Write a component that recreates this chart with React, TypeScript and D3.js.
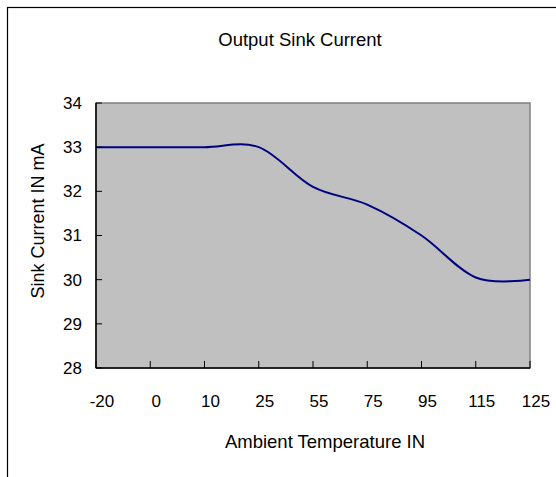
import React, { useEffect, useRef } from "react"
import * as d3 from "d3"

const temps = ["-20", "0", "10", "25", "55", "75", "95", "115", "125"]
const sinkCurrent = [33, 33, 33, 33, 32.1, 31.7, 31.0, 30.05, 30.0]
const yTicks = [28, 29, 30, 31, 32, 33, 34]

const App = () => {
	const svgRef = useRef<SVGSVGElement>(null)

	useEffect(() => {
		const width = 556
		const height = 477
		const margin = { top: 103, right: 26, bottom: 109, left: 96 }

		const svg = d3.select(svgRef.current).attr("width", width).attr("height", height)
		svg.selectAll("*").remove()

		const font = "Arial, 'Liberation Sans', sans-serif"

		// outer chart border (right/bottom run past the window)
		svg.append("rect")
			.attr("x", 7.5)
			.attr("y", 7.5)
			.attr("width", 600)
			.attr("height", 600)
			.attr("fill", "white")
			.attr("stroke", "black")
			.attr("stroke-width", 1.2)

		const scale = {
			x: d3
				.scalePoint()
				.domain(temps)
				.range([margin.left, width - margin.right]),
			y: d3
				.scaleLinear()
				.domain([28, 34])
				.range([height - margin.bottom, margin.top]),
		}

		const x0 = margin.left
		const x1 = width - margin.right
		const y0 = height - margin.bottom
		const y1 = margin.top

		// plot area
		svg.append("rect")
			.attr("x", x0)
			.attr("y", y1)
			.attr("width", x1 - x0)
			.attr("height", y0 - y1)
			.attr("fill", "#c0c0c0")
			.attr("stroke", "#808080")
			.attr("stroke-width", 1.5)

		// line
		const line = d3
			.line<number>()
			.x((d, i) => scale.x(temps[i]) as number)
			.y((d) => scale.y(d))
			.curve(d3.curveCardinal.tension(0))

		svg.append("path")
			.datum(sinkCurrent)
			.attr("d", line)
			.attr("fill", "none")
			.attr("stroke", "#000080")
			.attr("stroke-width", 2)

		// y axis
		const yAxis = svg.append("g")
		yAxis.append("line")
			.attr("x1", x0).attr("x2", x0)
			.attr("y1", y1).attr("y2", y0)
			.attr("stroke", "black").attr("stroke-width", 1.5)
		yAxis.selectAll(".yt")
			.data(yTicks)
			.join("line")
			.attr("x1", x0).attr("x2", x0 + 6)
			.attr("y1", (d) => scale.y(d)).attr("y2", (d) => scale.y(d))
			.attr("stroke", "black")
		yAxis.selectAll("text")
			.data(yTicks)
			.join("text")
			.attr("x", x0 - 14)
			.attr("y", (d) => scale.y(d))
			.attr("dy", "0.35em")
			.attr("text-anchor", "end")
			.attr("font-family", font)
			.attr("font-size", 17)
			.text((d) => d)

		// x axis
		const xAxis = svg.append("g")
		xAxis.append("line")
			.attr("x1", x0).attr("x2", x1)
			.attr("y1", y0).attr("y2", y0)
			.attr("stroke", "black").attr("stroke-width", 1.5)
		xAxis.selectAll(".xt")
			.data(temps)
			.join("line")
			.attr("x1", (d) => scale.x(d) as number).attr("x2", (d) => scale.x(d) as number)
			.attr("y1", y0).attr("y2", y0 - 7)
			.attr("stroke", "black")
		xAxis.selectAll("text")
			.data(temps)
			.join("text")
			.attr("x", (d) => (scale.x(d) as number) + 6)
			.attr("y", y0 + 33)
			.attr("dy", "0.35em")
			.attr("text-anchor", "middle")
			.attr("font-family", font)
			.attr("font-size", 17)
			.text((d) => d)

		// titles
		svg.append("text")
			.attr("x", 300)
			.attr("y", 40)
			.attr("dy", "0.35em")
			.attr("text-anchor", "middle")
			.attr("font-family", font)
			.attr("font-size", 18.5)
			.text("Output Sink Current")

		svg.append("text")
			.attr("x", 325)
			.attr("y", 442)
			.attr("dy", "0.35em")
			.attr("text-anchor", "middle")
			.attr("font-family", font)
			.attr("font-size", 18.5)
			.text("Ambient Temperature IN")

		svg.append("text")
			.attr("transform", "translate(38,221) rotate(-90)")
			.attr("dy", "0.35em")
			.attr("text-anchor", "middle")
			.attr("font-family", font)
			.attr("font-size", 18)
			.text("Sink Current IN mA")
	}, [])

	return (
		<div>
			<svg ref={svgRef} style={{ position: "absolute", left: 0, top: 0 }}></svg>
		</div>
	)
}

export default App
